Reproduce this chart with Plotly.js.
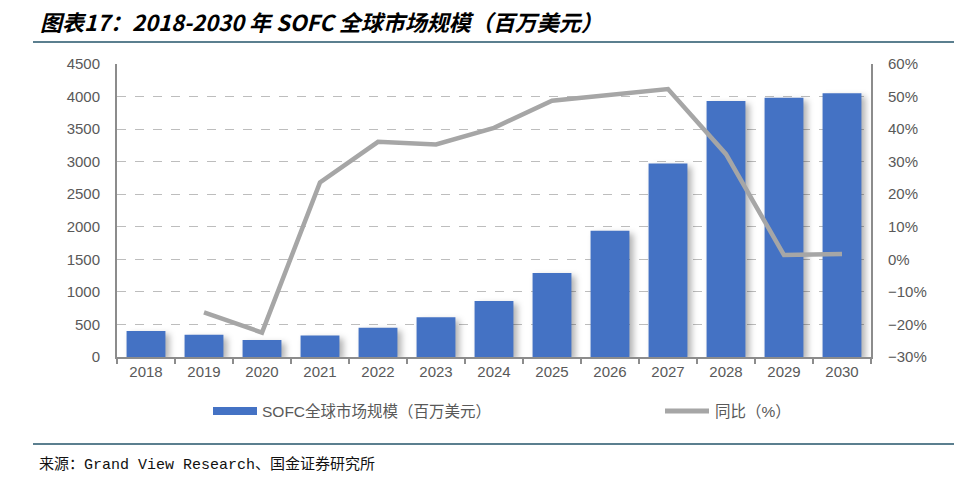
<!DOCTYPE html>
<html>
<head>
<meta charset="utf-8">
<script src="https://cdn.plot.ly/plotly-3.0.1.min.js"></script>
<style>
  html, body { margin: 0; padding: 0; background: #fff; }
  #chart { width: 954px; height: 491px; }
  .bars path { filter: drop-shadow(4px 3px 3px rgba(0,0,0,0.3)); }
</style>
</head>
<body>
<div id="chart"></div>
<script>
// chart values
var years = ['2018', '2019', '2020', '2021', '2022', '2023', '2024', '2025', '2026', '2027', '2028', '2029', '2030']
var marketSize = [400, 340, 260, 330, 450, 610, 860, 1290, 1940, 2970, 3930, 3980, 4050]
var yoy = [null, -16.3, -22.5, 23.6, 36.1, 35.3, 40.4, 48.7, 50.5, 52.3, 32.3, 1.3, 1.6]

var barName = 'SOFC全球市场规模（百万美元）'
var lineName = '同比（%）'
var titleText = '图表17：2018-2030 年 SOFC 全球市场规模（百万美元）'
var sourceText = '来源：Grand View Research、国金证券研究所'

// plot box in pixels
var W = 954, H = 491
var L = 117, R = 871, T = 64, B = 357

function px(x) { return (x - L) / (R - L) }
function py(y) { return (B - y) / (B - T) }

var axisGray = '#8c8c8c'
var tickFont = { family: 'Liberation Sans, Arial, sans-serif', size: 15, color: '#595959' }
var cjkFont = 'Liberation Sans, Noto Sans CJK SC, sans-serif'

var traces = [
    {
        x: years, y: marketSize, name: barName, type: 'bar',
        marker: { color: '#4472c4' }, yaxis: 'y', hoverinfo: 'x+y'
    },
    {
        x: years, y: yoy, name: lineName, type: 'scatter', mode: 'lines',
        line: { color: '#a6a6a6', width: 4.5 }, yaxis: 'y2', connectgaps: false,
        hoverinfo: 'x+y'
    }
]

var layout = {
    width: W, height: H,
    margin: { l: L, r: W - R, t: T, b: H - B, pad: 0 },
    paper_bgcolor: '#ffffff', plot_bgcolor: '#ffffff',
    showlegend: false,
    bargap: 0.33,
    xaxis: {
        type: 'category', tickfont: tickFont,
        showline: true, linecolor: axisGray, linewidth: 2,
        ticks: 'outside', tickson: 'boundaries', ticklen: 5, tickcolor: axisGray, tickwidth: 1.5,
        showgrid: false, fixedrange: true
    },
    yaxis: {
        range: [0, 4500], dtick: 500, tickfont: tickFont,
        showline: true, linecolor: axisGray, linewidth: 2,
        ticks: '',
        showgrid: true, gridcolor: '#bdbdbd', griddash: 'dash', gridwidth: 1,
        zeroline: false, ticklabelstandoff: 12, fixedrange: true
    },
    yaxis2: {
        overlaying: 'y', side: 'right',
        range: [-30, 60], dtick: 10, ticksuffix: '%', tickfont: tickFont,
        showline: true, linecolor: axisGray, linewidth: 2,
        ticks: '',
        showgrid: false, zeroline: false, ticklabelstandoff: 12, fixedrange: true
    },
    shapes: [
        // rule under title
        { type: 'line', xref: 'paper', yref: 'paper', x0: px(33), x1: px(954), y0: py(42), y1: py(42),
          line: { color: '#24556a', width: 1.5 } },
        // rule above source
        { type: 'line', xref: 'paper', yref: 'paper', x0: px(33), x1: px(954), y0: py(444), y1: py(444),
          line: { color: '#24556a', width: 1.5 } },
        // legend swatches
        { type: 'rect', xref: 'paper', yref: 'paper', x0: px(213), x1: px(257), y0: py(407), y1: py(415),
          fillcolor: '#4472c4', line: { width: 0 } },
        { type: 'line', xref: 'paper', yref: 'paper', x0: px(665), x1: px(709), y0: py(411), y1: py(411),
          line: { color: '#a6a6a6', width: 5 } }
    ],
    annotations: [
        { text: '<b><i>' + titleText + '</i></b>', xref: 'paper', yref: 'paper', x: px(38), y: py(21),
          xanchor: 'left', yanchor: 'middle', showarrow: false,
          font: { family: 'Noto Sans CJK SC, sans-serif', size: 22, color: '#000000' } },
        { text: barName, xref: 'paper', yref: 'paper', x: px(260), y: py(411),
          xanchor: 'left', yanchor: 'middle', showarrow: false,
          font: { family: cjkFont, size: 15.5, color: '#595959' } },
        { text: lineName, xref: 'paper', yref: 'paper', x: px(713), y: py(411),
          xanchor: 'left', yanchor: 'middle', showarrow: false,
          font: { family: cjkFont, size: 15.5, color: '#595959' } },
        { text: sourceText, xref: 'paper', yref: 'paper', x: px(37), y: py(465),
          xanchor: 'left', yanchor: 'middle', showarrow: false,
          font: { family: 'Liberation Mono, Noto Sans CJK SC, monospace', size: 15, color: '#111111' } }
    ]
}

Plotly.newPlot('chart', traces, layout, { displayModeBar: false, staticPlot: true })
</script>
</body>
</html>
